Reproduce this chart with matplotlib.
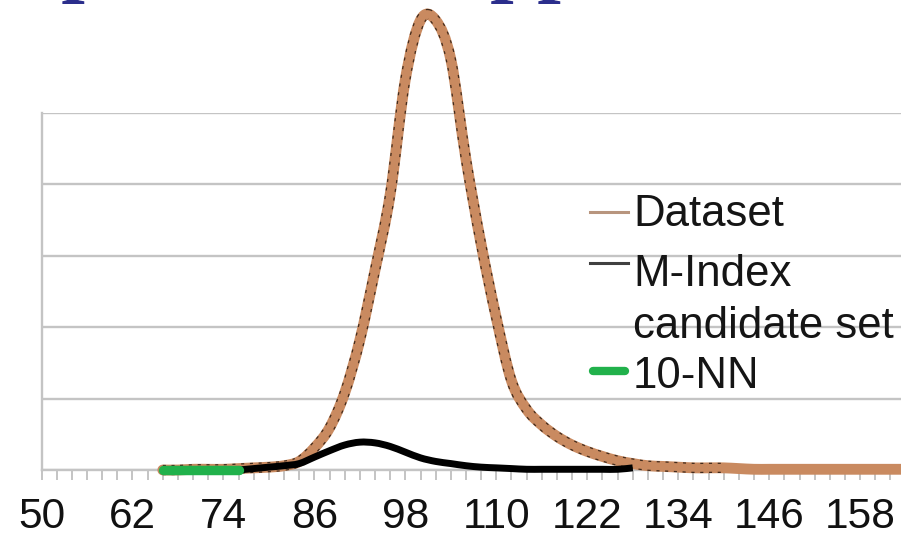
import numpy as np
import matplotlib
matplotlib.use("Agg")
import matplotlib.pyplot as plt
from matplotlib.lines import Line2D
from matplotlib.path import Path
from matplotlib.patches import PathPatch

# ---- data -------------------------------------------------------------
# distance bins (category axis, step 2)
dataset_x = [66, 68, 70, 72, 74, 76, 78, 80, 82, 84, 86, 88, 90, 92, 94, 96,
             98, 100, 102, 104, 106, 108, 110, 112, 114, 116, 118, 120, 122,
             124, 126, 128, 130, 132, 134, 136, 138, 140, 142, 144, 146, 148,
             150, 152, 154, 156, 158, 160, 162, 164]
dataset_y = [0.00, 0.00, 0.01, 0.01, 0.01, 0.02, 0.03, 0.04, 0.06, 0.12, 0.31,
             0.59, 1.08, 1.82, 2.80, 3.86, 5.47, 6.30, 6.30, 5.75, 4.35, 3.16,
             2.13, 1.25, 0.85, 0.63, 0.47, 0.35, 0.26, 0.19, 0.13, 0.09, 0.06,
             0.05, 0.04, 0.03, 0.03, 0.03, 0.02, 0.01, 0.01, 0.01, 0.01, 0.01,
             0.01, 0.01, 0.01, 0.01, 0.01, 0.01]

mindex_x = [76, 78, 80, 82, 84, 86, 88, 90, 92, 94, 96, 98, 100, 102, 104,
            106, 108, 110, 112, 114, 116, 118, 120, 122, 124, 126, 128]
mindex_y = [0.00, 0.02, 0.04, 0.06, 0.09, 0.18, 0.27, 0.35, 0.39, 0.38, 0.33,
            0.25, 0.17, 0.12, 0.09, 0.06, 0.04, 0.03, 0.02, 0.01, 0.01, 0.01,
            0.01, 0.01, 0.01, 0.01, 0.03]

knn_x = [66, 68, 70, 72, 74, 76]
knn_y = [0.00, 0.00, 0.00, 0.00, 0.00, 0.00]

tick_labels = ["50", "62", "74", "86", "98", "110", "122", "134", "146", "158"]
series_names = ["Dataset", "M-Index\ncandidate set", "10-NN"]
title_text = "Comparison to approximate search"

# ---- style ------------------------------------------------------------
W, H, DPI = 901, 539, 100
BROWN = "#C98A60"
GREEN = "#21B14B"
GRID = "#C4C4C4"
TITLE_BLUE = "#2B2E8C"
plt.rcParams["font.family"] = ["Liberation Sans", "DejaVu Sans"]

fig = plt.figure(figsize=(W / DPI, H / DPI), dpi=DPI)
fig.patch.set_facecolor("white")


def fx(px):
    return px / W


def fy(py):
    return 1 - py / H


def smooth_path(xs, ys):
    """Smoothed (Catmull-Rom style) cubic Bezier path through the points."""
    p = np.column_stack([xs, ys]).astype(float)
    ext = np.vstack([p[0], p, p[-1]])
    verts = [p[0]]
    codes = [Path.MOVETO]
    for i in range(len(p) - 1):
        p0, p1, p2, p3 = ext[i], ext[i + 1], ext[i + 2], ext[i + 3]
        c1 = p1 + (p2 - p0) / 6.0
        c2 = p2 - (p3 - p1) / 6.0
        verts += [c1, c2, p2]
        codes += [Path.CURVE4] * 3
    return Path(np.array(verts), codes)


def curve(ax, xs, ys, **kw):
    patch = PathPatch(smooth_path(xs, ys), fill=False, clip_on=False,
                      joinstyle="round", **kw)
    ax.add_patch(patch)
    return patch


# plot area in pixels
left_px, right_px, top_px, base_px = 41.5, 901, 113, 470
px_per_unit = 7.58
ax = fig.add_axes([fx(left_px), fy(base_px), fx(right_px - left_px),
                   (base_px - top_px) / H])
ax.set_xlim(50, 50 + (right_px - left_px) / px_per_unit)
ax.set_ylim(0, 5)

# grid / spines
ax.set_yticks([0, 1, 2, 3, 4, 5])
ax.yaxis.grid(True, color=GRID, lw=1.7)
ax.set_axisbelow(True)
ax.tick_params(axis="y", length=0, labelleft=False)
for s in ("top", "right"):
    ax.spines[s].set_visible(False)
for s in ("left", "bottom"):
    ax.spines[s].set_color(GRID)
    ax.spines[s].set_linewidth(1.7)

major = [int(t) for t in tick_labels]
ax.set_xticks(major)
ax.set_xticklabels(tick_labels, fontsize=30.5, color="#111111")
ax.set_xticks(list(range(50, 164, 2)), minor=True)
ax.tick_params(axis="x", which="both", length=7.5, width=1.4, color=GRID,
               direction="out")
ax.tick_params(axis="x", which="major", pad=12)

# series
curve(ax, dataset_x, dataset_y, edgecolor=BROWN, lw=7.8, capstyle="round",
      zorder=3)
edge_n = dataset_x.index(140) + 1
curve(ax, dataset_x[:edge_n], dataset_y[:edge_n], edgecolor="#2a1a10",
      lw=7.4, linestyle=(0, (0.3, 0.55)), zorder=3.1, alpha=0.85)
curve(ax, dataset_x, dataset_y, edgecolor=BROWN, lw=5.6, capstyle="round",
      zorder=3.2)
curve(ax, mindex_x, mindex_y, edgecolor="black", lw=5.0, capstyle="butt",
      zorder=4)
ax.plot(knn_x, knn_y, color=GREEN, lw=6.8, solid_capstyle="round",
        clip_on=False, zorder=5)

# legend
leg_x0, leg_x1, text_x = 590, 628, 633
fs_leg = 31.5
fig.add_artist(Line2D([fx(leg_x0), fx(leg_x1)], [fy(212), fy(212)],
                      color="#B8957E", lw=2.2))
fig.text(fx(text_x), fy(226), series_names[0], fontsize=fs_leg,
         va="baseline", ha="left", color="#151515")
fig.add_artist(Line2D([fx(leg_x0), fx(leg_x1)], [fy(263), fy(263)],
                      color="#404040", lw=2.2))
fig.text(fx(text_x), fy(286), "M-Index", fontsize=fs_leg,
         va="baseline", ha="left", color="#151515")
fig.text(fx(text_x), fy(338), "candidate set", fontsize=fs_leg,
         va="baseline", ha="left", color="#151515")
fig.add_artist(Line2D([fx(leg_x0 + 3), fx(leg_x1 - 3)], [fy(371), fy(371)],
                      color=GREEN, lw=6, solid_capstyle="round"))
fig.text(fx(text_x), fy(388), series_names[2], fontsize=fs_leg,
         va="baseline", ha="left", color="#151515")

# slide title above the chart
fig.text(fx(-113), fy(-14), title_text, fontsize=61, fontweight="bold",
         family=["Liberation Serif", "DejaVu Serif"], color=TITLE_BLUE,
         ha="left", va="baseline")

fig.savefig("out.png", dpi=DPI)
